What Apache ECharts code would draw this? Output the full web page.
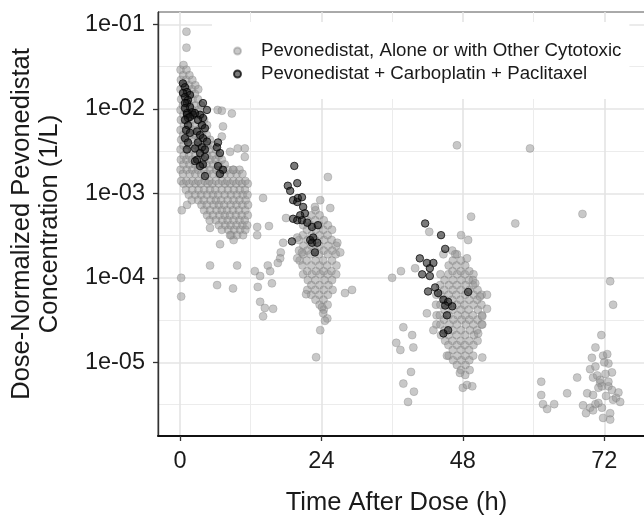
<!DOCTYPE html>
<html><head><meta charset="utf-8">
<script src="https://cdn.jsdelivr.net/npm/echarts@6/dist/echarts.min.js"></script>
<style>html,body{margin:0;padding:0;background:#fff}#c{width:644px;height:515px}</style>
</head><body><div id="c"></div>
<script>
const xTicks = [0, 24, 48, 72];
const xMinorTicks = [12, 36, 60];
const yTicks = [1e-5, 1e-4, 1e-3, 1e-2, 1e-1];
const yTickLabels = ['1e-05', '1e-04', '1e-03', '1e-02', '1e-01'];
const yMinorExponents = [-5.5, -4.5, -3.5, -2.5, -1.5];
const greyName = 'Pevonedistat, Alone or with Other Cytotoxic';
const blackName = 'Pevonedistat + Carboplatin + Paclitaxel';

const greyEarly = [
[0.1,0.029],[0.15,0.022],[0.1,0.017],[0.2,0.013],[0.1,0.0097],[0.15,0.0074],[0.1,0.0056],[0.2,0.0043],[0.1,0.0033],[0.15,0.0025],[0.1,0.0019],[0.2,0.0014],
[0.6,0.033],[0.55,0.025],[0.65,0.019],[0.6,0.015],[0.5,0.011],[0.6,0.0085],[0.7,0.0064],[0.55,0.0049],[0.6,0.0037],[0.65,0.0028],[0.6,0.0022],[0.5,0.0017],[0.6,0.0013],
[1.1,0.029],[1.05,0.022],[1.15,0.017],[1.1,0.013],[1.0,0.0097],[1.1,0.0074],[1.2,0.0056],[1.1,0.0043],[1.05,0.0033],[1.1,0.0025],[1.15,0.0019],[1.1,0.0014],[1.0,0.0011],
[1.6,0.025],[1.55,0.019],[1.65,0.015],[1.6,0.011],[1.5,0.0085],[1.6,0.0064],[1.7,0.0049],[1.6,0.0037],[1.55,0.0028],[1.6,0.0022],[1.65,0.0017],[1.6,0.0013],[1.5,0.00096],
[2.1,0.022],[2.05,0.017],[2.15,0.013],[2.1,0.0097],[2.0,0.0074],[2.1,0.0056],[2.2,0.0043],[2.1,0.0033],[2.05,0.0025],[2.1,0.0019],[2.15,0.0014],[2.1,0.0011],[2.0,0.00083],
[2.6,0.019],[2.55,0.015],[2.65,0.011],[2.6,0.0085],[2.5,0.0064],[2.6,0.0049],[2.7,0.0037],[2.6,0.0028],[2.55,0.0022],[2.6,0.0017],[2.65,0.0013],[2.6,0.00096],
[3.1,0.017],[3.05,0.013],[3.15,0.0097],[3.1,0.0074],[3.0,0.0056],[3.1,0.0043],[3.2,0.0033],[3.1,0.0025],[3.05,0.0019],[3.1,0.0014],[3.15,0.0011],[3.1,0.00083],
[3.6,0.011],[3.55,0.0085],[3.65,0.0064],[3.6,0.0049],[3.5,0.0037],[3.6,0.0028],[3.7,0.0022],[3.6,0.0017],[3.55,0.0013],[3.6,0.00096],[3.65,0.00073],
[4.1,0.0074],[4.05,0.0056],[4.15,0.0043],[4.1,0.0033],[4.0,0.0025],[4.1,0.0019],[4.2,0.0014],[4.1,0.0011],[4.05,0.00083],[4.1,0.00063],
[4.6,0.0064],[4.55,0.0049],[4.65,0.0037],[4.6,0.0028],[4.5,0.0022],[4.6,0.0017],[4.7,0.0013],[4.6,0.00096],[4.55,0.00073],[4.6,0.00055],
[5.1,0.0043],[5.05,0.0033],[5.15,0.0025],[5.1,0.0019],[5.0,0.0014],[5.1,0.0011],[5.2,0.00083],[5.1,0.00063],[5.05,0.00048],
[5.6,0.0037],[5.55,0.0028],[5.65,0.0022],[5.6,0.0017],[5.5,0.0013],[5.6,0.00096],[5.7,0.00073],[5.6,0.00055],
[6.1,0.0033],[6.05,0.0025],[6.15,0.0019],[6.1,0.0014],[6.0,0.0011],[6.1,0.00083],[6.2,0.00063],[6.1,0.00048],
[6.6,0.0028],[6.55,0.0022],[6.65,0.0017],[6.6,0.0013],[6.5,0.00096],[6.6,0.00073],[6.7,0.00055],[6.6,0.00042],
[7.1,0.0025],[7.05,0.0019],[7.15,0.0014],[7.1,0.0011],[7.0,0.00083],[7.1,0.00063],[7.2,0.00048],[7.1,0.00037],
[7.6,0.0022],[7.55,0.0017],[7.65,0.0013],[7.6,0.00096],[7.5,0.00073],[7.6,0.00055],[7.7,0.00042],
[8.1,0.0019],[8.05,0.0014],[8.15,0.0011],[8.1,0.00083],[8.0,0.00063],[8.1,0.00048],[8.2,0.00037],
[8.6,0.0017],[8.55,0.0013],[8.65,0.00096],[8.6,0.00073],[8.5,0.00055],[8.6,0.00042],[8.7,0.00032],
[9.1,0.0019],[9.05,0.0014],[9.15,0.0011],[9.1,0.00083],[9.0,0.00063],[9.1,0.00048],[9.2,0.00037],[9.1,0.00028],
[9.6,0.0017],[9.55,0.0013],[9.65,0.00096],[9.6,0.00073],[9.5,0.00055],[9.6,0.00042],[9.7,0.00032],
[10.1,0.0019],[10.05,0.0014],[10.15,0.0011],[10.1,0.00083],[10.0,0.00063],[10.1,0.00048],[10.2,0.00037],
[10.6,0.0017],[10.55,0.0013],[10.65,0.00096],[10.6,0.00073],[10.5,0.00055],[10.6,0.00042],[10.7,0.00032],
[11.1,0.0014],[11.05,0.0011],[11.15,0.00083],[11.1,0.00063],[11.0,0.00048],[11.1,0.00037],
[11.5,0.0013],[11.45,0.00096],[11.55,0.00073],[11.5,0.00055],[11.4,0.00042],
[1.1,0.082],[1.1,0.053],[6.4,0.0097],[7.1,0.0095],[8.8,0.0088],[7.3,0.0062],[7.1,0.0047],[8.5,0.0031],[9.8,0.0034],[11.0,0.0034],[11.0,0.0027],[9.0,0.0019],
[0.3,0.00063],[1.2,0.00073],[5.1,0.00039],[6.8,0.00025],[8.5,0.00032],[5.1,0.00014],[6.3,8.2e-5],[9.7,0.00014],[9.0,7.5e-5],[0.2,0.0001],[0.2,6.0e-5],
[12.7,0.00012],[13.6,0.000105],[13.2,7.8e-5],[15.6,8.6e-5],[14.9,0.00014],[15.3,0.00012],[13.6,5.2e-5],[14.4,4.4e-5],[15.8,4.3e-5],[14.1,3.5e-5],
[13.1,0.0004],[13.1,0.00032],[15.1,0.00041],[14.1,0.00088]
];

const greyDay1 = [
[20.2,0.00028],[20.2,0.00021],[20.3,0.00016],
[20.9,0.00042],[20.85,0.00032],[20.95,0.00024],[20.9,0.00019],[20.8,0.00014],[20.9,0.00011],
[21.6,0.00048],[21.55,0.00037],[21.65,0.00028],[21.6,0.00021],[21.5,0.00016],[21.6,0.00012],[21.7,9.4e-5],[21.6,7.2e-5],
[22.3,0.00055],[22.25,0.00042],[22.35,0.00032],[22.3,0.00024],[22.2,0.00019],[22.3,0.00014],[22.4,0.00011],[22.3,8.2e-5],[22.25,6.3e-5],
[23.0,0.00063],[22.95,0.00048],[23.05,0.00037],[23.0,0.00028],[22.9,0.00021],[23.0,0.00016],[23.1,0.00012],[23.0,9.4e-5],[22.95,7.2e-5],[23.0,5.5e-5],
[23.7,0.00055],[23.65,0.00042],[23.75,0.00032],[23.7,0.00024],[23.6,0.00019],[23.7,0.00014],[23.8,0.00011],[23.7,8.2e-5],[23.65,6.3e-5],[23.7,4.8e-5],
[24.4,0.00048],[24.35,0.00037],[24.45,0.00028],[24.4,0.00021],[24.3,0.00016],[24.4,0.00012],[24.5,9.4e-5],[24.4,7.2e-5],[24.35,5.5e-5],[24.4,4.2e-5],
[25.1,0.00042],[25.05,0.00032],[25.15,0.00024],[25.1,0.00019],[25.0,0.00014],[25.1,0.00011],[25.2,8.2e-5],[25.1,6.3e-5],[25.05,4.8e-5],
[25.8,0.00037],[25.75,0.00028],[25.85,0.00021],[25.8,0.00016],[25.7,0.00012],[25.8,9.4e-5],[25.9,7.2e-5],
[26.5,0.00024],[26.45,0.00019],[26.55,0.00014],[26.5,0.00011],
[23.8,0.00083],[22.9,0.00069],[25.1,0.00156],[25.5,0.00067],[26.7,0.00026],[27.2,0.0002],[24.1,4.5e-5],[24.3,3.8e-5],[25.0,3.3e-5],[23.8,2.4e-5],[24.6,3.1e-5],[23.1,1.15e-5],
[28.0,6.6e-5],[29.2,7.2e-5],[21.4,6.4e-5],[19.9,0.0003],[20.7,0.0002],[19.9,0.00017],[18.0,0.00051],[17.5,0.00026],[17.1,0.0002],[17.0,0.00017],[16.6,0.00015]
];

const greyDay2 = [
[43.5,6.3e-5],[43.45,4.8e-5],[43.55,3.6e-5],[43.5,2.8e-5],
[44.2,0.00011],[44.15,8.2e-5],[44.25,6.3e-5],[44.2,4.8e-5],[44.1,3.6e-5],[44.2,2.8e-5],[44.3,2.1e-5],
[44.9,9.4e-5],[44.85,7.2e-5],[44.95,5.5e-5],[44.9,4.2e-5],[44.8,3.2e-5],[44.9,2.4e-5],[45.0,1.8e-5],
[45.6,0.00014],[45.55,0.00011],[45.65,8.2e-5],[45.6,6.3e-5],[45.5,4.8e-5],[45.6,3.6e-5],[45.7,2.8e-5],[45.6,2.1e-5],[45.55,1.6e-5],[45.6,1.2e-5],
[46.3,0.00016],[46.25,0.00012],[46.35,9.4e-5],[46.3,7.2e-5],[46.2,5.5e-5],[46.3,4.2e-5],[46.4,3.2e-5],[46.3,2.4e-5],[46.25,1.8e-5],[46.3,1.4e-5],[46.35,1.06e-5],
[47.0,0.00019],[46.95,0.00014],[47.05,0.00011],[47.0,8.2e-5],[46.9,6.3e-5],[47.0,4.8e-5],[47.1,3.6e-5],[47.0,2.8e-5],[46.95,2.1e-5],[47.0,1.6e-5],[47.05,1.2e-5],[47.0,9.3e-6],
[47.7,0.00016],[47.65,0.00012],[47.75,9.4e-5],[47.7,7.2e-5],[47.6,5.5e-5],[47.7,4.2e-5],[47.8,3.2e-5],[47.7,2.4e-5],[47.65,1.8e-5],[47.7,1.4e-5],[47.75,1.06e-5],[47.7,8.1e-6],
[48.4,0.00014],[48.35,0.00011],[48.45,8.2e-5],[48.4,6.3e-5],[48.3,4.8e-5],[48.4,3.6e-5],[48.5,2.8e-5],[48.4,2.1e-5],[48.35,1.6e-5],[48.4,1.2e-5],[48.45,9.3e-6],[48.4,7.1e-6],
[49.1,0.00012],[49.05,9.4e-5],[49.15,7.2e-5],[49.1,5.5e-5],[49.0,4.2e-5],[49.1,3.2e-5],[49.2,2.4e-5],[49.1,1.8e-5],[49.05,1.4e-5],[49.1,1.06e-5],[49.15,8.1e-6],
[49.8,0.00011],[49.75,8.2e-5],[49.85,6.3e-5],[49.8,4.8e-5],[49.7,3.6e-5],[49.8,2.8e-5],[49.9,2.1e-5],[49.8,1.6e-5],[49.75,1.2e-5],
[50.5,7.2e-5],[50.45,5.5e-5],[50.55,4.2e-5],[50.5,3.2e-5],[50.4,2.4e-5],[50.5,1.8e-5],
[51.2,6.3e-5],[51.15,4.8e-5],[51.25,3.6e-5],[51.2,2.8e-5],
[49.4,0.00053],[47.7,0.00032],[48.9,0.00028],[46.2,0.00021],[46.7,0.00019],[48.7,0.00017],[44.7,0.00019],[42.3,0.00035],[39.9,0.00013],[37.5,0.00012],[36.0,0.0001],
[49.7,9.4e-5],[50.1,8.6e-5],[50.9,6.0e-5],[52.1,6.3e-5],[52.1,4.3e-5],[51.3,3.5e-5],[51.3,2.8e-5],[51.3,1.14e-5],[50.6,2.2e-5],[41.9,3.8e-5],[43.0,2.4e-5],[45.3,1.2e-5],
[47.5,7.5e-6],[48.0,5.0e-6],[48.7,5.4e-6],[49.6,5.2e-6],[37.9,2.6e-5],[39.4,2.1e-5],[36.7,1.7e-5],[37.4,1.4e-5],[39.6,1.5e-5],[39.2,7.7e-6],[37.9,5.6e-6],[39.7,4.5e-6],[38.7,3.4e-6],
[47.0,0.0037]
];

const greyDay3 = [
[59.4,0.0034],[56.9,0.00044],[68.3,0.00057],
[73.0,9.1e-5],[73.5,4.8e-5],[71.5,2.1e-5],[70.5,1.5e-5],[69.9,1.13e-5],[71.8,1.2e-5],[72.5,1.25e-5],[72.7,9.7e-6],[73.3,7.6e-6],[69.6,8.3e-6],[70.1,6.6e-6],
[72.2,7.3e-6],[71.3,5.7e-6],[71.6,5.2e-6],[72.7,5.2e-6],[67.4,6.6e-6],[69.1,4.3e-6],[70.1,4.1e-6],[68.4,3.1e-6],[69.6,2.9e-6],[70.5,3.2e-6],[71.0,3.3e-6],
[71.6,2.9e-6],[73.5,3.6e-6],[74.0,3.8e-6],[74.4,4.4e-6],[73.0,2.5e-6],[71.8,2.2e-6],[73.0,2.1e-6],[68.9,2.5e-6],[70.1,2.7e-6],[70.5,8.9e-6],[71.3,6.2e-6],
[72.7,5.9e-6],[71.0,5.0e-6],[61.3,5.9e-6],[61.3,4.1e-6],[61.6,3.2e-6],[62.3,2.8e-6],[63.5,3.2e-6],[65.7,4.3e-6],[72.0,1.0e-5],[70.8,7.0e-6],[73.3,4.7e-6],
[74.7,3.4e-6],[72.3,4.0e-6]
];

const blackEarly = [
[0.5,0.020],[0.85,0.018],[1.19,0.0158],[0.51,0.0154],[1.7,0.0146],[0.85,0.0138],[1.36,0.0127],[1.19,0.0117],[0.85,0.0117],[1.7,0.0105],[0.85,0.0102],
[2.04,0.0091],[1.19,0.0089],[1.19,0.0085],[2.21,0.0085],[3.4,0.0085],[3.9,0.0078],[1.36,0.0078],[1.7,0.0080],[0.85,0.0074],[1.36,0.0064],[1.02,0.0056],
[1.7,0.0052],[0.85,0.0045],[1.36,0.0040],[1.19,0.0033],[2.55,0.0089],[3.06,0.0074],[3.74,0.0064],[4.24,0.0059],[2.89,0.0054],[3.4,0.0049],[3.9,0.0045],
[4.58,0.0041],[3.06,0.0040],[3.74,0.0035],[4.24,0.0033],[2.55,0.0034],[3.4,0.0030],[4.24,0.0027],[2.89,0.0025],[3.9,0.0022],[3.4,0.0021],[4.24,0.0016],
[2.55,0.0024],[6.45,0.0040],[6.79,0.0030],[6.45,0.0021],[7.3,0.0019],[6.79,0.0017],[6.28,0.0035],[3.9,0.0117],[4.58,0.0097]
];

const blackDay1 = [
[19.4,0.00211],[18.3,0.00123],[19.9,0.00132],[18.7,0.00107],[19.2,0.00083],[19.9,0.00079],[20.0,0.00088],[20.7,0.0009],[20.9,0.00069],[21.2,0.00058],
[20.4,0.00055],[19.2,0.0005],[19.9,0.00048],[20.7,0.00048],[22.4,0.0004],[23.4,0.00042],[21.6,0.00045],[22.1,0.00028],[22.6,0.0003],[22.4,0.00026],
[23.3,0.00026],[22.9,0.0002],[19.0,0.00027]
];

const blackDay2 = [
[41.6,0.00044],[44.3,0.00032],[45.0,0.00022],[40.7,0.00017],[41.9,0.00015],[43.0,0.00015],[41.1,0.00011],[42.4,0.000105],[42.4,0.00013],[48.9,6.8e-5],
[42.1,6.9e-5],[43.3,7.7e-5],[43.8,6.6e-5],[44.7,5.5e-5],[45.5,5.2e-5],[46.2,4.6e-5],[45.3,3.6e-5],[45.0,4.7e-5],[44.7,2.2e-5],[45.5,2.4e-5]
];

const X_MIN = -3.73, X_MAX = 79.25;
const Y_MIN = 1.343e-6, Y_MAX = 0.140;
const FONT = '"Liberation Sans", Arial, sans-serif';
const yMinorTicks = yMinorExponents.map(e => Math.pow(10, e));

function yLabel(v) {
  let best = 0, bd = Infinity;
  yTicks.forEach((t, i) => { const d = Math.abs(Math.log10(t) - Math.log10(v)); if (d < bd) { bd = d; best = i; } });
  return yTickLabels[best];
}

const chart = echarts.init(document.getElementById('c'), null, { renderer: 'canvas' });
chart.setOption({
  animation: false,
  backgroundColor: '#fff',
  textStyle: { fontFamily: FONT },
  grid: { left: 158, top: 12, right: -3, bottom: 79, containLabel: false, outerBoundsMode: 'none',
          show: true, borderColor: '#555', borderWidth: 1, backgroundColor: 'transparent' },
  legend: {
    data: [greyName, blackName],
    orient: 'vertical', left: 212, top: 22,
    padding: [19, 8, 15, 21],
    backgroundColor: '#fff',
    icon: 'circle', itemWidth: 25, itemHeight: 7, itemGap: 3,
    textStyle: { fontSize: 18.7, lineHeight: 20, color: '#1a1a1a', fontFamily: FONT, padding: [0, 0, 0, 6] }
  },
  xAxis: [
    { type: 'value', min: X_MIN, max: X_MAX, position: 'bottom',
      axisLine: { show: true, onZero: false, lineStyle: { color: '#111', width: 2 } },
      axisTick: { show: true, length: 5, customValues: xTicks, lineStyle: { color: '#333', width: 1.3 } },
      axisLabel: { customValues: xTicks, fontSize: 23.5, color: '#1a1a1a', margin: 14, fontFamily: FONT },
      splitLine: { show: true, lineStyle: { color: '#e4e4e4', width: 1.6 } },
      name: 'Time After Dose (h)', nameLocation: 'middle', nameGap: 54,
      nameTextStyle: { fontSize: 25.5, color: '#1a1a1a', padding: [0, 12, 0, 0], fontFamily: FONT } },
    { type: 'value', min: X_MIN, max: X_MAX, position: 'top',
      axisLine: { show: false, onZero: false }, axisLabel: { show: false },
      axisTick: { show: false, customValues: xMinorTicks },
      splitLine: { show: true, lineStyle: { color: '#ececec', width: 1 } } }
  ],
  yAxis: [
    { type: 'log', min: Y_MIN, max: Y_MAX, position: 'left',
      axisLine: { show: true, onZero: false, lineStyle: { color: '#333', width: 1.4 } },
      axisTick: { show: true, length: 5, customValues: yTicks, lineStyle: { color: '#333', width: 1.3 } },
      axisLabel: { customValues: yTicks, formatter: yLabel, fontSize: 23.5, color: '#1a1a1a', margin: 13, fontFamily: FONT },
      splitLine: { show: true, lineStyle: { color: '#e4e4e4', width: 1.6 } },
      name: 'Dose-Normalized Pevonedistat\nConcentration (1/L)', nameLocation: 'middle', nameRotate: 90, nameGap: 94,
      nameTextStyle: { fontSize: 25.5, lineHeight: 28.3, color: '#1a1a1a', align: 'center', fontFamily: FONT } },
    { type: 'log', min: Y_MIN, max: Y_MAX, position: 'right',
      axisLine: { show: false, onZero: false }, axisLabel: { show: false },
      axisTick: { show: false, customValues: yMinorTicks },
      splitLine: { show: true, lineStyle: { color: '#ececec', width: 1 } } }
  ],
  series: [
    { type: 'scatter', name: greyName, xAxisIndex: 0, yAxisIndex: 0,
      data: greyEarly.concat(greyDay1, greyDay2, greyDay3),
      symbol: 'circle', symbolSize: 8,
      itemStyle: { color: 'rgba(150,150,150,0.65)', borderColor: 'rgba(115,115,115,0.45)', borderWidth: 0.8 },
      emphasis: { disabled: true }, z: 2 },
    { type: 'scatter', name: blackName, xAxisIndex: 0, yAxisIndex: 0,
      data: blackEarly.concat(blackDay1, blackDay2),
      symbol: 'circle', symbolSize: 7.5,
      itemStyle: { color: 'rgba(25,25,25,0.72)', borderColor: 'rgba(0,0,0,0.9)', borderWidth: 1 },
      emphasis: { disabled: true }, z: 3 }
  ]
});
</script>
</body></html>
